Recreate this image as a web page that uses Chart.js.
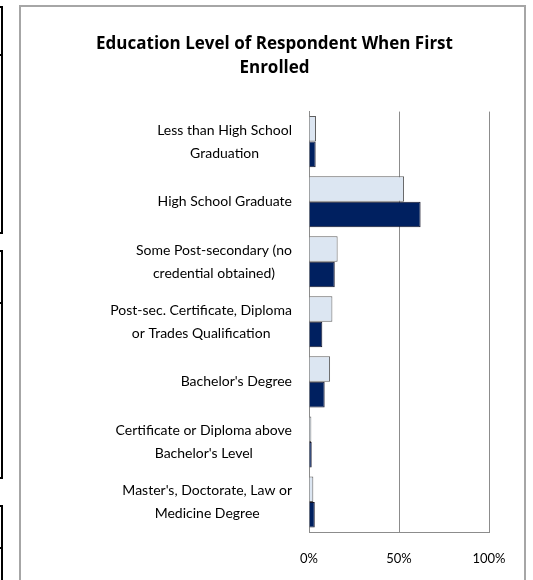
<!DOCTYPE html>
<html>
<head>
<meta charset="utf-8">
<script src="https://cdn.jsdelivr.net/npm/chart.js@4"></script>
<style>
  html, body { margin: 0; padding: 0; background: #fff; overflow: hidden; }
  body { width: 533px; height: 580px; position: relative; }
  .side { position: absolute; left: -17px; width: 20px; border: 2px solid #000; box-sizing: border-box; }
  .side .hd { position: absolute; left: 0; right: 0; border-bottom: 2px solid #000; }
  #frame { position: absolute; left: 19px; top: 5px; width: 507px; height: 575px;
           border: 2px solid #a6a6a6; border-bottom: none; box-sizing: border-box; }
  #wrap { position: absolute; left: 0; top: 0; width: 533px; height: 585px; }
</style>
</head>
<body>
<!-- bits of the neighbouring boxes cut off at the left edge -->
<div class="side" style="top:6px;height:228px"><div class="hd" style="top:46px"></div></div>
<div class="side" style="top:250px;height:229px"><div class="hd" style="top:50px"></div></div>
<div class="side" style="top:505px;height:75px;border-bottom:none"><div class="hd" style="top:40px"></div></div>
<div id="frame"></div>
<div id="wrap"><canvas id="chart" width="533" height="585"></canvas></div>

<script>
// categories (two-line labels)
const categories = [
    ["Less than High School", "Graduation"],
    ["High School Graduate"],
    ["Some Post-secondary (no", "credential obtained)"],
    ["Post-sec. Certificate, Diploma", "or Trades Qualification"],
    ["Bachelor's Degree"],
    ["Certificate or Diploma above", "Bachelor's Level"],
    ["Master's, Doctorate, Law or", "Medicine Degree"]
];

// series values (%)
const seriesLight = [3.9, 52.8, 15.9, 13.0, 11.7, 1.3, 2.4];
const seriesDark  = [3.7, 62.0, 14.3, 7.4, 8.7, 1.5, 3.2];

// x tick labels
const xTicks = [0, 50, 100];

const FONT = "Lato, 'Open Sans', sans-serif";

// category labels: each block right-aligned to the axis, lines centred in the block (Excel style)
const categoryLabelPlugin = {
    id: "categoryLabels",
    afterDraw(chart) {
        const { ctx, scales: { y } } = chart;
        const lineH = 23;
        const rightX = y.right - 17;
        ctx.save();
        ctx.font = "14px " + FONT;
        ctx.fillStyle = "#000";
        ctx.textAlign = "center";
        ctx.textBaseline = "middle";
        chart.data.labels.forEach((lines, i) => {
            const cy = y.getPixelForValue(i);
            const widest = Math.max(...lines.map(l => ctx.measureText(l).width));
            const cx = rightX - widest / 2;
            const top = cy - (lines.length - 1) * lineH / 2;
            lines.forEach((l, k) => ctx.fillText(l, cx, top + k * lineH));
        });
        ctx.restore();
    }
};

new Chart(document.getElementById("chart").getContext("2d"), {
    type: "bar",
    data: {
        labels: categories,
        datasets: [
            {
                label: "Series 1",
                data: seriesLight,
                backgroundColor: "#dce6f2",
                borderColor: "#5f5f5f",
                borderWidth: 1,
                categoryPercentage: 0.85,
                barPercentage: 1.0
            },
            {
                label: "Series 2",
                data: seriesDark,
                backgroundColor: "#002060",
                borderColor: "#141428",
                borderWidth: 1,
                categoryPercentage: 0.85,
                barPercentage: 1.0
            }
        ]
    },
    options: {
        indexAxis: "y",
        responsive: false,
        animation: false,
        layout: { padding: { left: 60, right: 44, top: 0, bottom: 0 } },
        plugins: {
            legend: { display: false },
            tooltip: { enabled: false },
            title: {
                display: true,
                text: ["Education Level of Respondent When First", "Enrolled"],
                color: "#000",
                font: { family: "'Open Sans', sans-serif", size: 17, weight: "bold", lineHeight: 1.37 },
                padding: { top: 33, bottom: 32 }
            }
        },
        scales: {
            x: {
                min: 0,
                max: 100,
                afterBuildTicks: (scale) => { scale.ticks = xTicks.map(v => ({ value: v })); },
                ticks: {
                    callback: (v) => v + "%",
                    color: "#000",
                    font: { family: FONT, size: 13, lineHeight: 1.0 },
                    padding: 20,
                    maxRotation: 0
                },
                grid: {
                    color: (ctx) => ctx.tick && ctx.tick.value === 0 ? "rgba(0,0,0,0)" : "#8c8c8c",
                    drawTicks: false,
                    lineWidth: 1
                },
                border: { color: "#8c8c8c", width: 1 }
            },
            y: {
                afterFit: (scale) => { scale.width = 249; },
                ticks: { display: false },
                grid: { display: false, drawTicks: false },
                border: { color: "#8c8c8c", width: 1 }
            }
        }
    },
    plugins: [categoryLabelPlugin]
});
</script>
</body>
</html>
